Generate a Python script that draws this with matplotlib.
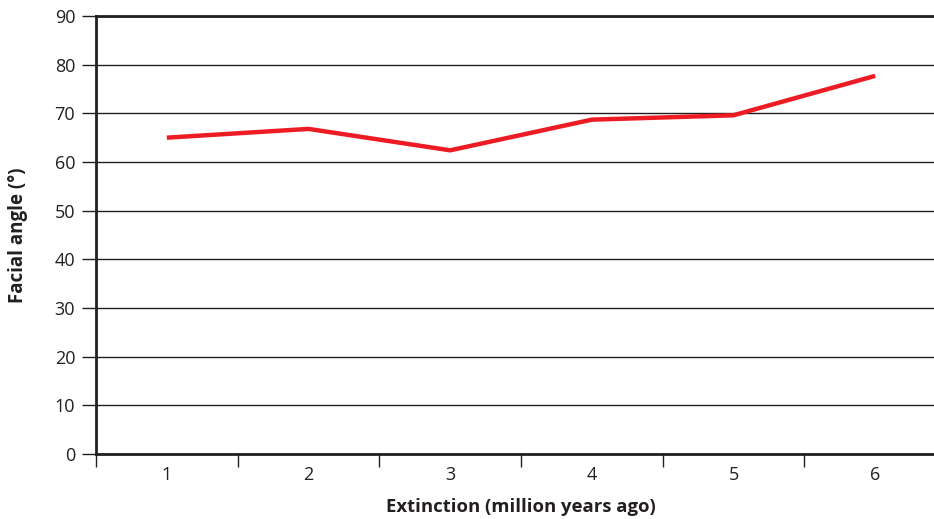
import matplotlib.pyplot as plt

plt.rcParams['font.family'] = ['Open Sans', 'DejaVu Sans']

# Data
categories = ['1', '2', '3', '4', '5', '6']
facial_angle = [65.0, 66.8, 62.4, 68.7, 69.6, 77.7]
y_ticks = [0, 10, 20, 30, 40, 50, 60, 70, 80, 90]

dark = '#231f20'

fig = plt.figure(figsize=(9.34, 5.19), dpi=100)
# the right part of the plot area runs past the picture edge
ax = fig.add_axes([96 / 934, 1 - 454 / 519, 850 / 934, 438 / 519])

x = list(range(len(categories)))
ax.plot(x, facial_angle, color='#ed1c24', linewidth=3.2, solid_capstyle='butt', zorder=3)

ax.set_xlim(-0.5, len(categories) - 0.5)
ax.set_ylim(0, 90)
ax.set_yticks(y_ticks)
ax.yaxis.grid(True, color=dark, linewidth=1.0)
ax.set_axisbelow(True)

# category boundaries as tick marks, labels in the middle
ax.set_xticks([i - 0.5 for i in range(len(categories) + 1)])
ax.set_xticklabels([])
ax.set_xticks(x, minor=True)
ax.set_xticklabels(categories, minor=True)
ax.tick_params(axis='x', which='major', length=9, width=1, color=dark, direction='out')
ax.tick_params(axis='x', which='minor', length=0, pad=9, labelsize=13, labelcolor=dark)
ax.tick_params(axis='y', length=10, width=1, color=dark, pad=5, labelsize=13, labelcolor=dark)

for side in ['left', 'bottom', 'top']:
    ax.spines[side].set_linewidth(2)
    ax.spines[side].set_color(dark)
ax.spines['right'].set_visible(False)

ax.set_ylabel('Facial angle (°)', fontsize=13.5, fontweight='bold', color=dark)
ax.yaxis.set_label_coords((28 - 96) / 850, 0.5)
fig.text(521 / 934, 1 - 507 / 519, 'Extinction (million years ago)', fontsize=13.3,
         fontweight='bold', color=dark, ha='center', va='center')

fig.savefig('out.png', dpi=100)
